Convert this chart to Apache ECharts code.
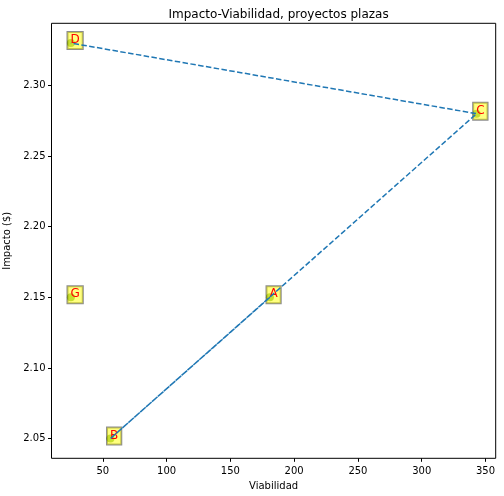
<!DOCTYPE html>
<html>
<head>
<meta charset="utf-8">
<script src="https://cdn.jsdelivr.net/npm/echarts@6/dist/echarts.min.js"></script>
<style>
  html, body { margin: 0; padding: 0; background: #fff; }
  #chart { width: 504px; height: 496px; }
</style>
</head>
<body>
<div id="chart"></div>
<script>
// proyectos: nombre, viabilidad, impacto
var nombres = ['A', 'B', 'C', 'D', 'G'];
var viabilidad = [181, 56, 343, 25, 25];
var impacto = [2.15, 2.05, 2.28, 2.33, 2.15];
// orden de la linea punteada
var ordenLinea = ['A', 'B', 'C', 'D'];

var xTicks = [50, 100, 150, 200, 250, 300, 350];
var yTicks = [2.05, 2.10, 2.15, 2.20, 2.25, 2.30];

var puntos = nombres.map(function (n, i) {
  return { name: n, value: [viabilidad[i], impacto[i]] };
});
var linea = ordenLinea.map(function (n) {
  var i = nombres.indexOf(n);
  return [viabilidad[i], impacto[i]];
});

var chartDom = document.getElementById('chart');
var myChart = echarts.init(chartDom);

var fuente = 'DejaVu Sans';

option = {
  backgroundColor: '#fff',
  animation: false,
  title: {
    text: 'Impacto-Viabilidad, proyectos plazas',
    left: 273.6,
    top: 4,
    textAlign: 'center',
    textStyle: { fontFamily: fuente, fontSize: 12, fontWeight: 'normal', color: '#000' }
  },
  grid: {
    left: 51.5, right: 8.3, top: 23.3, bottom: 37.7,
    outerBoundsMode: 'none',
    containLabel: false,
    show: true, borderColor: '#000', borderWidth: 1, backgroundColor: 'transparent'
  },
  xAxis: {
    type: 'value',
    min: 9.8,
    max: 358,
    name: 'Viabilidad',
    nameLocation: 'middle',
    nameGap: 22,
    nameTextStyle: { fontFamily: fuente, fontSize: 10, color: '#000' },
    splitLine: { show: false },
    axisLine: { show: false },
    axisTick: { show: true, length: 3.5, lineStyle: { color: '#000' }, customValues: xTicks },
    axisLabel: {
      fontFamily: fuente, fontSize: 10, color: '#000', margin: 8,
      customValues: xTicks
    }
  },
  yAxis: {
    type: 'value',
    min: 2.036,
    max: 2.344,
    name: 'Impacto ($)',
    nameLocation: 'middle',
    nameGap: 38,
    nameRotate: 90,
    nameTextStyle: { fontFamily: fuente, fontSize: 10, color: '#000' },
    splitLine: { show: false },
    axisLine: { show: false },
    axisTick: { show: true, length: 3.5, lineStyle: { color: '#000' }, customValues: yTicks },
    axisLabel: {
      fontFamily: fuente, fontSize: 10, color: '#000', margin: 6,
      customValues: yTicks,
      formatter: function (v) { return v.toFixed(2); }
    }
  },
  series: [
    {
      type: 'line',
      data: linea,
      showSymbol: false,
      symbol: 'none',
      lineStyle: { color: '#1f77b4', width: 1.5, type: [5.5, 2.4] },
      z: 3
    },
    {
      type: 'scatter',
      data: puntos,
      symbol: 'circle',
      symbolSize: 8,
      itemStyle: { color: '#8fbf5c', opacity: 1 },
      z: 2,
      label: {
        show: true,
        formatter: '{b}',
        position: [0.6, 10],
        align: 'left',
        verticalAlign: 'bottom',
        fontFamily: fuente,
        fontSize: 12,
        lineHeight: 14,
        color: '#ff0000',
        backgroundColor: 'rgba(255,255,0,0.5)',
        borderColor: 'rgba(0,0,0,0.45)',
        borderWidth: 1,
        padding: [1, 3, 2, 3]
      }
    }
  ]
};

option && myChart.setOption(option);
</script>
</body>
</html>
